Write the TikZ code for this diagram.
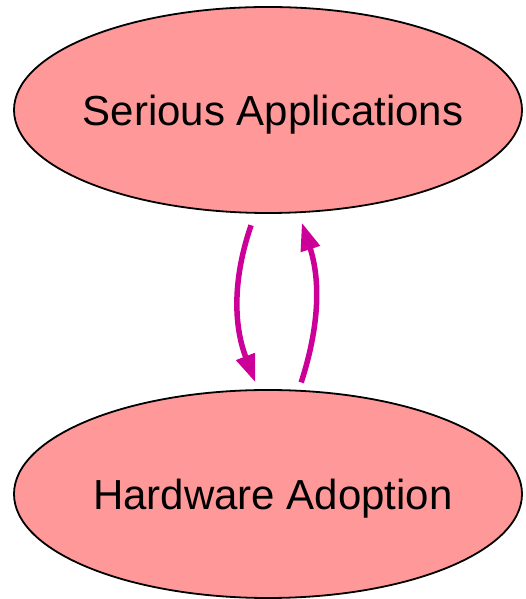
\documentclass[tikz,border=0pt]{standalone}
\usepackage{fontspec}
\setmainfont{Liberation Sans}
\usetikzlibrary{arrows.meta,shapes.geometric}
\definecolor{ovalpink}{RGB}{255,153,153}
\definecolor{loopmagenta}{RGB}{204,0,153}
\tikzset{
	oval/.style={ellipse, draw=black, line width=1.8pt, fill=ovalpink, inner sep=0pt},
	ovaltext/.style={font=\fontsize{42}{48}\selectfont, inner sep=0pt, text height=31pt, text depth=0pt},
	looparrow/.style={line width=5.5pt, color=loopmagenta, -{Triangle[length=28pt,width=19pt]}}
}

\begin{document}
\begin{tikzpicture}[x=1pt, y=1pt]
			%%%%% START %%%%%
			
			\useasboundingbox (0, 0) rectangle (526, 599);
			
			\node[oval, minimum width=508pt, minimum height=206pt] (apps) at (268, 489) {};
			\node[ovaltext] (appstext) at ([xshift=5pt]apps.center) {Serious Applications};
			
			\node[oval, minimum width=508pt, minimum height=208pt] (hw) at (268, 105) {};
			\node[ovaltext] (hwtext) at ([xshift=5pt]hw.center) {Hardware Adoption};
			
			\draw[looparrow, shorten <=12pt, shorten >=7pt] ([xshift=-13pt]apps.south) to[bend right=20] ([xshift=-10pt]hw.north);
			\draw[looparrow, shorten <=7pt, shorten >=9pt] ([xshift=31pt]hw.north) to[bend right=18] ([xshift=31pt]apps.south);
			
			%%%%% END %%%%%
\end{tikzpicture}
\end{document}
